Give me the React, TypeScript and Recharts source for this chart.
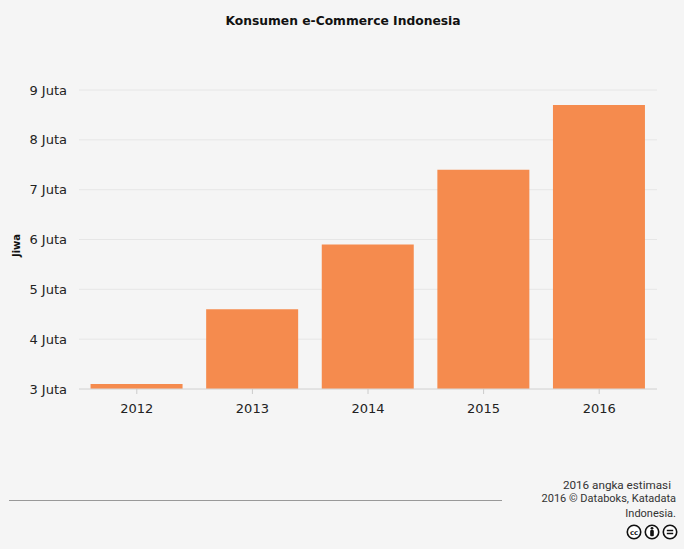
import { BarChart, Bar, XAxis, YAxis, CartesianGrid, Label } from 'recharts';

const years = ['2012', '2013', '2014', '2015', '2016'];
const consumers = [3.1, 4.6, 5.9, 7.4, 8.7];
const yTicks = [3, 4, 5, 6, 7, 8, 9];

const data = years.map((year, i) => ({ year, consumers: consumers[i] }));

const tickStyle = { fontFamily: 'DejaVu Sans', fontSize: 13, fill: '#222' };
const footerFont = 'Roboto';

function CcIcon({ children }: { children: React.ReactNode }) {
  return (
    <svg width={16} height={16} viewBox='0 0 15 15' style={{ display: 'block' }}>
      <circle cx={7.5} cy={7.5} r={6.3} fill='#fff' stroke='#111' strokeWidth={1.5} />
      {children}
    </svg>
  );
}

export default function App() {
  return (
    <div style={{ position: 'relative', width: 684, height: 549, background: '#f5f5f5', overflow: 'hidden' }}>
      <style>{'body{margin:0}'}</style>
      <div
        style={{
          position: 'absolute',
          top: 14,
          left: 0,
          width: 686,
          textAlign: 'center',
          fontFamily: 'DejaVu Sans',
          fontWeight: 'bold',
          fontSize: 12.3,
          color: '#111',
        }}
      >
        Konsumen e-Commerce Indonesia
      </div>

      <BarChart
        width={684}
        height={549}
        data={data}
        margin={{ top: 90, right: 27, bottom: 130, left: 9 }}
        barCategoryGap='10%'
        style={{ position: 'absolute', top: 0, left: 0 }}
      >
        <CartesianGrid vertical={false} stroke='#e6e6e6' />
        <XAxis
          dataKey='year'
          height={30}
          tick={tickStyle}
          tickLine={{ stroke: '#ccc' }}
          tickSize={5}
          tickMargin={10}
          axisLine={{ stroke: '#d8d8d8' }}
        />
        <YAxis
          width={70}
          domain={[3, 9]}
          ticks={yTicks}
          interval={0}
          tick={tickStyle}
          tickLine={false}
          axisLine={false}
          tickMargin={12}
          dx={6}
          tickFormatter={(v: number) => `${v} Juta`}
        >
          <Label
            value='Jiwa'
            angle={-90}
            position='insideLeft'
            offset={7}
            dy={6}
            style={{ fontFamily: 'DejaVu Sans', fontWeight: 'bold', fontSize: 10, fill: '#111', textAnchor: 'middle' }}
          />
        </YAxis>
        <Bar dataKey='consumers' fill='#f58b4e' isAnimationActive={false} />
      </BarChart>

      <div style={{ position: 'absolute', left: 9, top: 500, width: 493, height: 1, background: '#999' }} />
      <div
        style={{
          position: 'absolute',
          right: 8,
          top: 479,
          textAlign: 'right',
          fontFamily: footerFont,
          color: '#333',
          fontSize: 11,
          lineHeight: '12px',
        }}
      >
        <div style={{ fontSize: 11.7, marginRight: 5 }}>2016 angka estimasi</div>
        <div style={{ marginTop: 2 }}>2016 © Databoks, Katadata</div>
        <div style={{ marginTop: 3 }}>Indonesia.</div>
      </div>
      <div style={{ position: 'absolute', left: 626, top: 524, display: 'flex', gap: 2 }}>
        <CcIcon>
          <text x={7.5} y={10} textAnchor='middle' fontFamily='DejaVu Sans' fontWeight='bold' fontSize={6.5} fill='#111'>
            cc
          </text>
        </CcIcon>
        <CcIcon>
          <circle cx={7.5} cy={4} r={1.3} fill='#111' />
          <rect x={5.8} y={5.6} width={3.4} height={6} rx={1} fill='#111' />
        </CcIcon>
        <CcIcon>
          <rect x={4.5} y={5.4} width={6} height={1.4} fill='#111' />
          <rect x={4.5} y={8.2} width={6} height={1.4} fill='#111' />
        </CcIcon>
      </div>
    </div>
  );
}
